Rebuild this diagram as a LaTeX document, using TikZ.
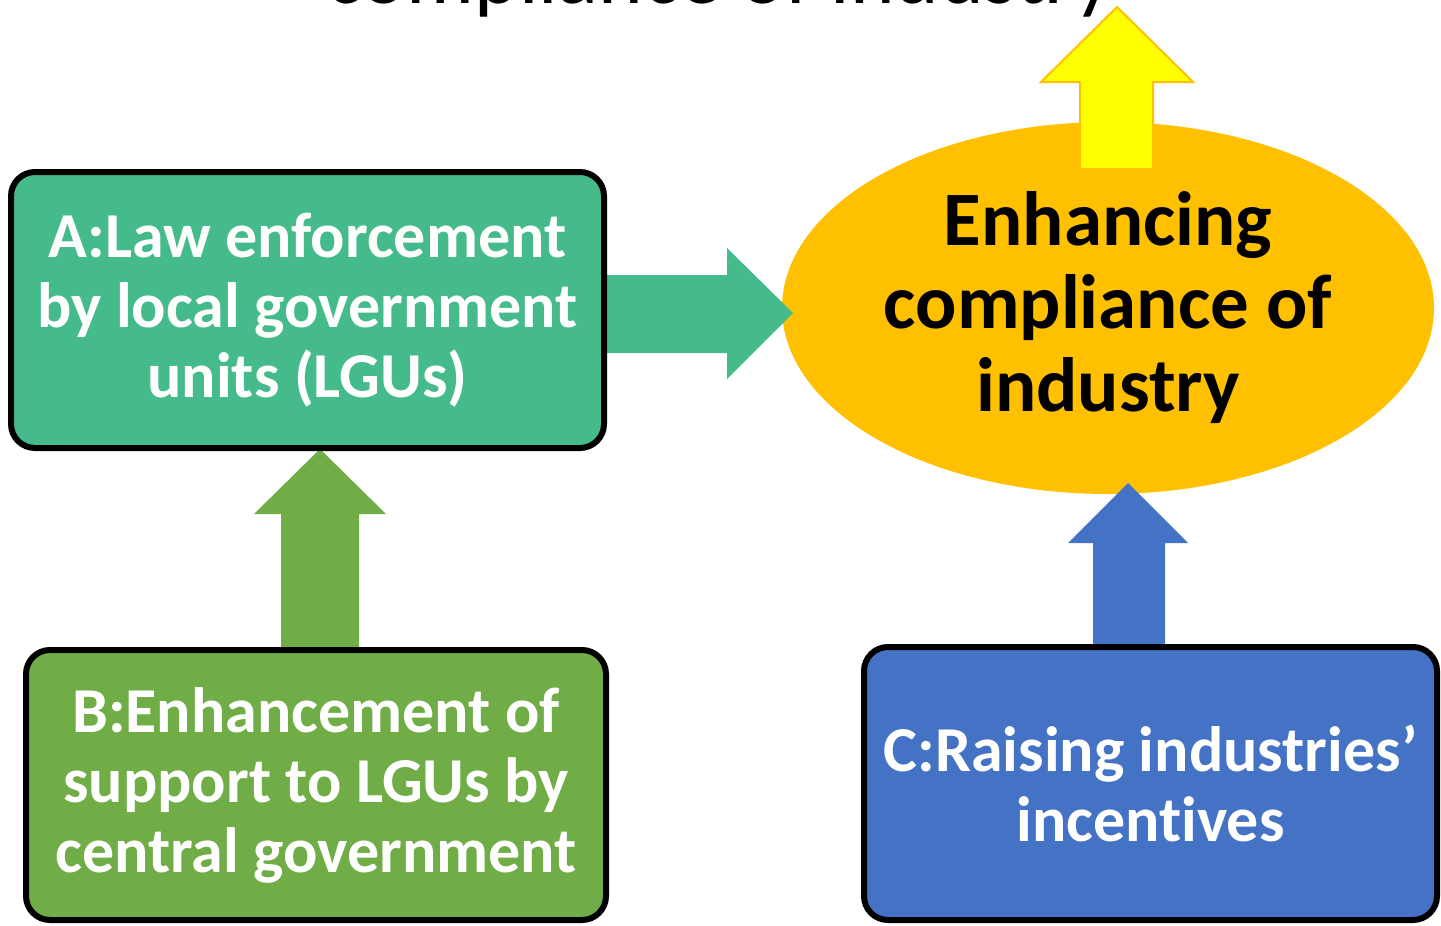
\documentclass[tikz,border=0pt]{standalone}
\usepackage{fontspec}
\setmainfont{Carlito}[Ligatures=NoCommon]
\usetikzlibrary{calc,shapes.geometric}
\definecolor{cA}{HTML}{45BB8C}
\definecolor{cB}{HTML}{70AD47}
\definecolor{cC}{HTML}{4472C4}
\definecolor{cE}{HTML}{FFC000}
\definecolor{cY}{HTML}{FFFF00}
\pgfdeclarelayer{back}
\pgfdeclarelayer{mid}
\pgfsetlayers{back,mid,main}
\begin{document}
\begin{tikzpicture}[x=1pt,y=-1pt,
  box/.style={draw=black, line width=6pt, rounded corners=24pt, text=white,
    font=\bfseries\fontsize{64}{70}\selectfont, align=center, inner sep=0pt},
  goal/.style={ellipse, fill=cE, inner sep=0pt, align=center,
    font=\bfseries\fontsize{77}{83}\selectfont},
  title/.style={font=\fontsize{85}{90}\selectfont, anchor=base}]
\useasboundingbox (0,0) rectangle (1441,926);
\clip (0,0) rectangle (1441,926);
% title (cut off at top)
\node[title] (T) at (720,4) {compliance of industry};
% boxes
\node[box, fill=cA, minimum width=593pt, minimum height=276pt] (A) at (307.5,310)
  {A:Law enforcement\\by local government\\units (LGUs)};
\node[box, fill=cB, minimum width=580pt, minimum height=270pt] (B) at (316,785)
  {B:Enhancement of\\support to LGUs by\\central government};
\node[box, fill=cC, minimum width=573pt, minimum height=273pt] (C) at (1150.5,783.5)
  {C:Raising industries’\\incentives};
% goal ellipse
\begin{pgfonlayer}{back}
\node[goal, minimum width=652pt, minimum height=372pt] (E) at (1108,308)
  {Enhancing\\compliance of\\industry};
\end{pgfonlayer}
% arrow tips
\coordinate (tAE) at (793,313);
\coordinate (tBA) at (320,449);
\coordinate (tCE) at (1128,483);
\coordinate (tUp) at (1117,7);
\begin{pgfonlayer}{mid}
% yellow up arrow out of the ellipse
\filldraw[fill=cY, draw=cE, line width=2pt]
  (1080,166) -- (1080,82) -- (1041,82) -- (tUp) -- (1193,82) -- (1153,82) -- (1153,166);
\fill[cY] (1081,160) rectangle (1152,168);
% A -> E
\fill[cA] (A.east |- 0,275) -- (727,275) -- (727,248) -- (tAE) -- (727,379) -- (727,353)
  -- (A.east |- 0,353) -- cycle;
% B -> A
\fill[cB] (B.north -| 281,0) -- (281,514) -- (254,514) -- (tBA) -- (386,514) -- (359,514)
  -- (B.north -| 359,0) -- cycle;
% C -> E
\fill[cC] (C.north -| 1093,0) -- (1093,543) -- (1068,543) -- (tCE) -- (1188,543) -- (1165,543)
  -- (C.north -| 1165,0) -- cycle;
\end{pgfonlayer}
\end{tikzpicture}
\end{document}
